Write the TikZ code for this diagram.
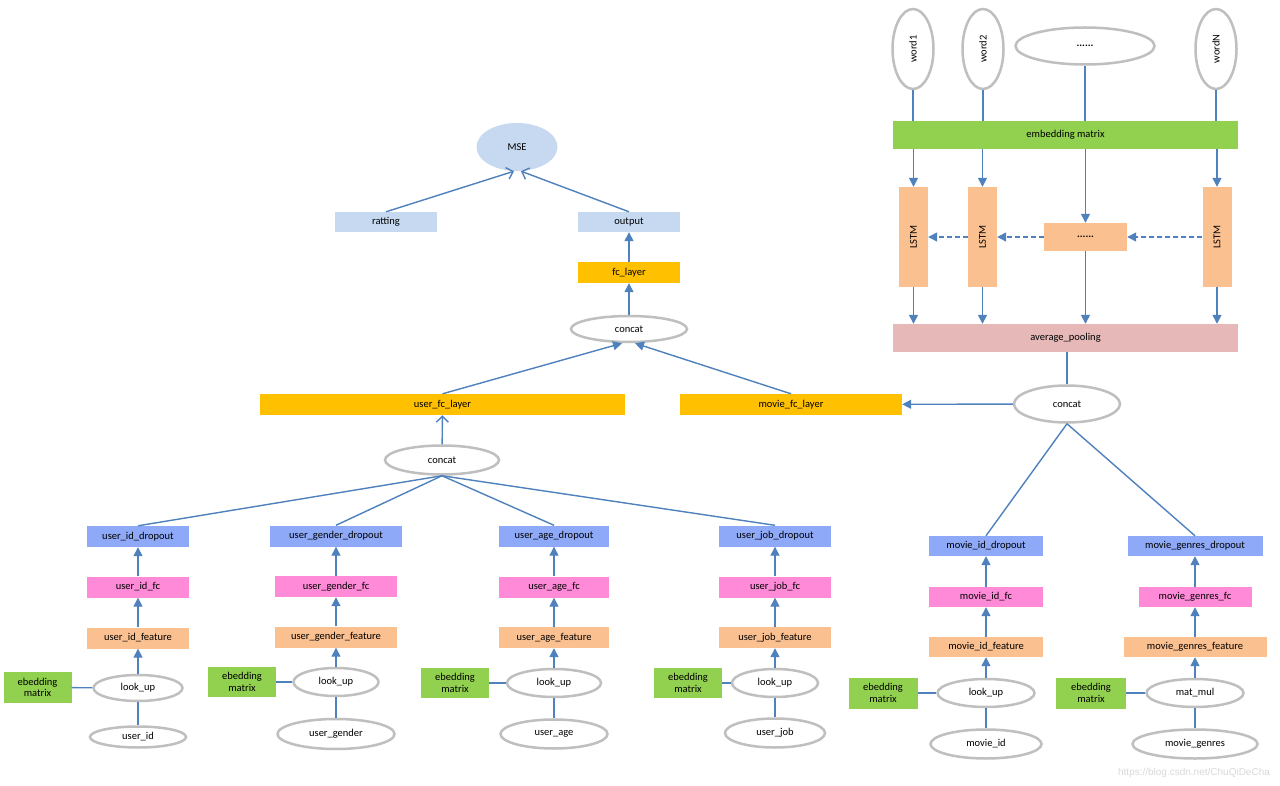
\documentclass[tikz,border=0pt]{standalone}
\usepackage{fontspec}
\setmainfont{Carlito}
\newfontfamily\wmfont{Liberation Sans}
\usetikzlibrary{shapes.geometric, arrows.meta}

\definecolor{linie}{HTML}{4F81BD}
\definecolor{grau}{HTML}{BFBFBF}
\definecolor{gruen}{HTML}{92D050}
\definecolor{pfirsich}{HTML}{FAC090}
\definecolor{rosa}{HTML}{FF8AD8}
\definecolor{lila}{HTML}{8EA9F7}
\definecolor{hellblau}{HTML}{C6D9F1}
\definecolor{gold}{HTML}{FFC000}
\definecolor{altrosa}{HTML}{E6B9B8}

\tikzset{
    kasten/.style={rectangle, inner sep=0pt, minimum height=21pt, font=\fontsize{10.5}{12}\selectfont},
    oval/.style={ellipse, draw=grau, line width=2.5pt, fill=white, inner sep=0pt, font=\fontsize{10.5}{12}\selectfont},
    matrixbox/.style={kasten, fill=gruen, align=center, minimum width=68pt, minimum height=31pt, font=\fontsize{10.5}{11.5}\selectfont},
    lnk/.style={draw=linie, line width=1.4pt},
    pfeil/.style={lnk, -{Triangle[length=9pt,width=9pt]}},
    offen/.style={lnk, -{Straight Barb[length=6pt,width=12pt]}},
    strich/.style={dash pattern=on 5pt off 3pt},
}

\begin{document}
\begin{tikzpicture}[x=1pt, y=-1pt]

\fill[white] (0,0) rectangle (1280,786);
\useasboundingbox (0,0) rectangle (1280,786);

% Verlust
\node[ellipse, fill=hellblau, inner sep=0pt, minimum width=81pt, minimum height=48pt, font=\fontsize{10.5}{12}\selectfont] (mse) at (517,147) {MSE};
\node[kasten, fill=hellblau, minimum width=102pt, minimum height=20pt] (ratting) at (386,222) {ratting};
\node[kasten, fill=hellblau, minimum width=102pt, minimum height=20pt] (output) at (629,222) {output};
\node[kasten, fill=gold, minimum width=102pt] (fclayer) at (629,272.5) {fc\_layer};
\node[oval, minimum width=116pt, minimum height=26pt] (concatm) at (629,329) {concat};
\node[kasten, fill=gold, minimum width=365pt] (userfc) at (442.5,404.5) {user\_fc\_layer};
\node[kasten, fill=gold, minimum width=222pt] (moviefc) at (791,404.5) {movie\_fc\_layer};
\node[oval, minimum width=114pt, minimum height=29pt] (concatu) at (442,460) {concat};
\node[oval, minimum width=106pt, minimum height=37pt] (concatr) at (1067,404) {concat};

\draw[offen] (ratting.north) -- ([xshift=-3pt]mse.south);
\draw[offen] (output.north) -- ([xshift=4pt]mse.south);
\draw[pfeil] (fclayer) -- (output);
\draw[pfeil] (concatm) -- (fclayer);
\draw[pfeil] (userfc.north) -- ([xshift=-7pt]concatm.south);
\draw[pfeil] (moviefc.north) -- ([xshift=6pt]concatm.south);
\draw[offen] (concatu) -- (userfc);
\draw[pfeil] (concatr) -- (moviefc);

% Woerter
\node[oval, minimum width=41pt, minimum height=80pt] (word1) at (913,49) {\rotatebox{90}{word1}};
\node[oval, minimum width=41pt, minimum height=80pt] (word2) at (983,49) {\rotatebox{90}{word2}};
\node[oval, minimum width=139pt, minimum height=37pt] (dots) at (1085,46) {\textbf{......}};
\node[oval, minimum width=41pt, minimum height=80pt] (wordN) at (1216,49) {\rotatebox{90}{wordN}};
\node[kasten, fill=gruen, minimum width=345pt, minimum height=28pt] (emb) at (1065.5,135) {embedding matrix};

% LSTM
\node[kasten, fill=pfirsich, minimum width=29pt, minimum height=100pt] (lstm1) at (913.5,237) {\rotatebox{90}{LSTM}};
\node[kasten, fill=pfirsich, minimum width=29pt, minimum height=100pt] (lstm2) at (982.5,237) {\rotatebox{90}{LSTM}};
\node[kasten, fill=pfirsich, minimum width=83pt, minimum height=28pt] (dotsbox) at (1085.5,237) {\textbf{......}};
\node[kasten, fill=pfirsich, minimum width=29pt, minimum height=100pt] (lstmN) at (1217,237) {\rotatebox{90}{LSTM}};
\node[kasten, fill=altrosa, minimum width=345pt, minimum height=28pt] (pool) at (1065.5,338) {average\_pooling};

\draw[lnk] (word1) -- (word1 |- emb.north);
\draw[lnk] (word2) -- (word2 |- emb.north);
\draw[lnk] (dots) -- (dots |- emb.north);
\draw[lnk] (wordN) -- (wordN |- emb.north);
\draw[pfeil] (emb.south -| lstm1) -- (lstm1.north);
\draw[pfeil] (emb.south -| lstm2) -- (lstm2.north);
\draw[pfeil] (emb.south -| dotsbox) -- (dotsbox.north);
\draw[pfeil] (emb.south -| lstmN) -- (lstmN.north);
\draw[pfeil, strich] (lstmN) -- (dotsbox);
\draw[pfeil, strich] (dotsbox) -- (lstm2);
\draw[pfeil, strich] (lstm2) -- (lstm1);
\draw[pfeil] (lstm1.south) -- (lstm1 |- pool.north);
\draw[pfeil] (lstm2.south) -- (lstm2 |- pool.north);
\draw[pfeil] (dotsbox.south) -- (dotsbox |- pool.north);
\draw[pfeil] (lstmN.south) -- (lstmN |- pool.north);
\draw[lnk] (pool.south -| concatr) -- (concatr.north);

% user_id
\node[kasten, fill=lila, minimum width=102pt] (iddrop) at (138,536.5) {user\_id\_dropout};
\node[kasten, fill=rosa, minimum width=102pt] (idfc) at (138,587) {user\_id\_fc};
\node[kasten, fill=pfirsich, minimum width=102pt] (idfeat) at (138,638) {user\_id\_feature};
\node[oval, minimum width=89pt, minimum height=26pt] (idlook) at (138,688) {look\_up};
\node[oval, minimum width=96pt, minimum height=21pt] (idin) at (138,737) {user\_id};
\node[matrixbox] (idmat) at (37.5,687.5) {ebedding\\matrix};

% user_gender
\node[kasten, fill=lila, minimum width=132pt] (gendrop) at (336,536) {user\_gender\_dropout};
\node[kasten, fill=rosa, minimum width=122pt] (genfc) at (336,586.5) {user\_gender\_fc};
\node[kasten, fill=pfirsich, minimum width=122pt] (genfeat) at (336,637) {user\_gender\_feature};
\node[oval, minimum width=85pt, minimum height=28pt] (genlook) at (336,682) {look\_up};
\node[oval, minimum width=117pt, minimum height=30pt] (genin) at (336,734) {user\_gender};
\node[matrixbox, minimum height=30pt] (genmat) at (242,682) {ebedding\\matrix};

% user_age
\node[kasten, fill=lila, minimum width=110pt] (agedrop) at (554,536) {user\_age\_dropout};
\node[kasten, fill=rosa, minimum width=110pt] (agefc) at (554,587) {user\_age\_fc};
\node[kasten, fill=pfirsich, minimum width=110pt] (agefeat) at (554,637.5) {user\_age\_feature};
\node[oval, minimum width=94pt, minimum height=28pt] (agelook) at (554,683) {look\_up};
\node[oval, minimum width=107pt, minimum height=29pt] (agein) at (554,734) {user\_age};
\node[matrixbox, minimum height=30pt] (agemat) at (455,683) {ebedding\\matrix};

% user_job
\node[kasten, fill=lila, minimum width=112pt] (jobdrop) at (775,536) {user\_job\_dropout};
\node[kasten, fill=rosa, minimum width=112pt] (jobfc) at (775,587) {user\_job\_fc};
\node[kasten, fill=pfirsich, minimum width=112pt] (jobfeat) at (775,637.5) {user\_job\_feature};
\node[oval, minimum width=86pt, minimum height=28pt] (joblook) at (775,683) {look\_up};
\node[oval, minimum width=100pt, minimum height=29pt] (jobin) at (775,733) {user\_job};
\node[matrixbox, minimum height=30pt] (jobmat) at (688,683) {ebedding\\matrix};

% movie_id
\node[kasten, fill=lila, minimum width=114pt, minimum height=20pt] (middrop) at (986,546) {movie\_id\_dropout};
\node[kasten, fill=rosa, minimum width=114pt, minimum height=20pt] (midfc) at (986,597) {movie\_id\_fc};
\node[kasten, fill=pfirsich, minimum width=114pt, minimum height=20pt] (midfeat) at (986,647) {movie\_id\_feature};
\node[oval, minimum width=97pt, minimum height=28pt] (midlook) at (986,693) {look\_up};
\node[oval, minimum width=111pt, minimum height=29pt] (midin) at (986,744) {movie\_id};
\node[matrixbox, minimum width=69pt] (midmat) at (883,693) {ebedding\\matrix};

% movie_genres
\node[kasten, fill=lila, minimum width=135pt, minimum height=20pt] (gnrdrop) at (1195,546) {movie\_genres\_dropout};
\node[kasten, fill=rosa, minimum width=113pt, minimum height=20pt] (gnrfc) at (1195,597) {movie\_genres\_fc};
\node[kasten, fill=pfirsich, minimum width=143pt, minimum height=20pt] (gnrfeat) at (1195,647) {movie\_genres\_feature};
\node[oval, minimum width=97pt, minimum height=28pt] (gnrmul) at (1195,693) {mat\_mul};
\node[oval, minimum width=125pt, minimum height=29pt] (gnrin) at (1195,744) {movie\_genres};
\node[matrixbox, minimum width=70pt] (gnrmat) at (1091,693) {ebedding\\matrix};

% Verbindungen unten
\draw[lnk] (concatu.south) -- (iddrop.north);
\draw[lnk] (concatu.south) -- (gendrop.north);
\draw[lnk] (concatu.south) -- (agedrop.north);
\draw[lnk] (concatu.south) -- (jobdrop.north);
\draw[lnk] (concatr.south) -- (middrop.north);
\draw[lnk] (concatr.south) -- (gnrdrop.north);

\draw[pfeil] (idfc) -- (iddrop);
\draw[pfeil] (idfeat) -- (idfc);
\draw[pfeil] (idlook) -- (idfeat);
\draw[lnk] (idin) -- (idlook);
\draw[lnk] (idmat) -- (idlook);

\draw[pfeil] (genfc) -- (gendrop);
\draw[pfeil] (genfeat) -- (genfc);
\draw[pfeil] (genlook) -- (genfeat);
\draw[lnk] (genin) -- (genlook);
\draw[lnk] (genmat) -- (genlook);

\draw[pfeil] (agefc) -- (agedrop);
\draw[pfeil] (agefeat) -- (agefc);
\draw[pfeil] (agelook) -- (agefeat);
\draw[lnk] (agein) -- (agelook);
\draw[lnk] (agemat) -- (agelook);

\draw[pfeil] (jobfc) -- (jobdrop);
\draw[pfeil] (jobfeat) -- (jobfc);
\draw[pfeil] (joblook) -- (jobfeat);
\draw[lnk] (jobin) -- (joblook);
\draw[lnk] (jobmat) -- (joblook);

\draw[pfeil] (midfc) -- (middrop);
\draw[pfeil] (midfeat) -- (midfc);
\draw[pfeil] (midlook) -- (midfeat);
\draw[lnk] (midin) -- (midlook);
\draw[lnk] (midmat) -- (midlook);

\draw[pfeil] (gnrfc) -- (gnrdrop);
\draw[pfeil] (gnrfeat) -- (gnrfc);
\draw[pfeil] (gnrmul) -- (gnrfeat);
\draw[lnk] (gnrin) -- (gnrmul);
\draw[lnk] (gnrmat) -- (gnrmul);

% Wasserzeichen
\node[text=gray!30, font=\wmfont\fontsize{10}{12}\selectfont] (wm) at (1194,773) {https://blog.csdn.net/ChuQiDeCha};

\end{tikzpicture}
\end{document}
